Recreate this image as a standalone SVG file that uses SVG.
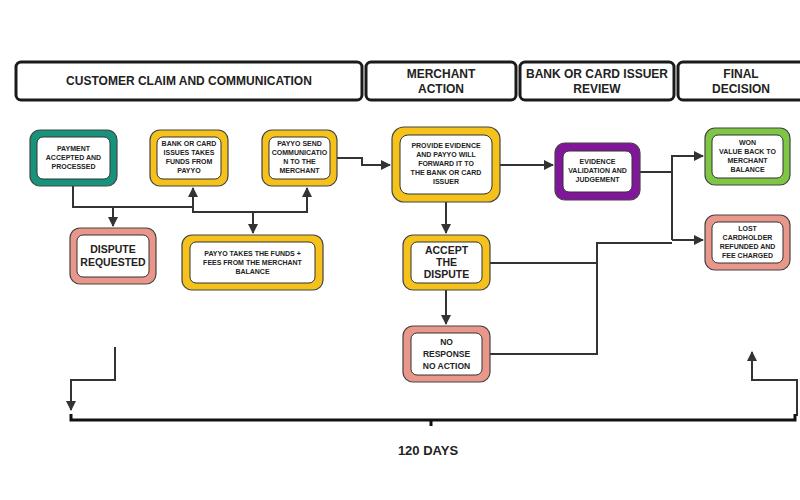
<svg xmlns="http://www.w3.org/2000/svg" width="800" height="500" viewBox="0 0 800 500">
<defs>
<style>
.hdr{fill:#fff;stroke:#1a1a1a;stroke-width:3}
.ht{font-family:"Liberation Sans",Arial,sans-serif;font-weight:bold;font-size:12px;fill:#222;text-anchor:middle}
.o{stroke:#444;stroke-width:1.2}
.in{fill:#fff;stroke:#333;stroke-width:1}
.t{font-family:"Liberation Sans",Arial,sans-serif;font-weight:bold;font-size:7px;fill:#222;text-anchor:middle}
.tb{font-family:"Liberation Sans",Arial,sans-serif;font-weight:bold;font-size:10.5px;fill:#222;text-anchor:middle}
.c{fill:none;stroke:#333;stroke-width:2}
.y{fill:#f4c21b}.g{fill:#16937a}.p{fill:#e8978a}.v{fill:#82169a}.gr{fill:#7ec644}
</style>
<marker id="a" viewBox="0 0 10 10" refX="9" refY="5" markerWidth="5" markerHeight="5" orient="auto"><path d="M0,0 L10,5 L0,10 z" fill="#333"/></marker>
</defs>
<rect width="800" height="500" fill="#fff"/>
<g id="headers">
<rect class="hdr" x="16" y="62" width="346" height="38" rx="5"/>
<text class="ht" x="189" y="85">CUSTOMER CLAIM AND COMMUNICATION</text>
<rect class="hdr" x="366" y="62" width="150" height="38" rx="5"/>
<text class="ht" x="441" y="78">MERCHANT</text><text class="ht" x="441" y="93">ACTION</text>
<rect class="hdr" x="520" y="62" width="154" height="38" rx="5"/>
<text class="ht" x="597" y="78">BANK OR CARD ISSUER</text><text class="ht" x="597" y="93">REVIEW</text>
<rect class="hdr" x="678" y="62" width="130" height="38" rx="5"/>
<text class="ht" x="741" y="78">FINAL</text><text class="ht" x="741" y="93">DECISION</text>
</g>
<g id="connectors">
<path class="c" d="M73,186 V207 H193"/>
<path class="c" d="M113,207 V226" marker-end="url(#a)"/>
<path class="c" d="M193,207 V188" marker-end="url(#a)"/>
<path class="c" d="M193,207 V212 H307 V188" marker-end="url(#a)"/>
<path class="c" d="M253,212 V233" marker-end="url(#a)"/>
<path class="c" d="M337,158 H362 V165 H390" marker-end="url(#a)"/>
<path class="c" d="M500,165 H553" marker-end="url(#a)"/>
<path class="c" d="M446,202 V233" marker-end="url(#a)"/>
<path class="c" d="M446,290 V324" marker-end="url(#a)"/>
<path class="c" d="M640,172 H672"/>
<path class="c" d="M672,240 V156 H703" marker-end="url(#a)"/>
<path class="c" d="M672,240 H703" marker-end="url(#a)"/>
<path class="c" d="M490,263 H597 V243"/>
<path class="c" d="M490,354 H597 V243 H672"/>
<path class="c" d="M115,347 V380 H71 V410" marker-end="url(#a)"/>
<path class="c" d="M797,416 V380 H752 V352" marker-end="url(#a)"/>
<path d="M71,414 V420 H795 V414 M431,420 V426" fill="none" stroke="#111" stroke-width="3"/>
</g>
<g id="n-payment"><rect class="o g" x="30" y="130" width="87" height="56" rx="10"/><rect class="in" x="37" y="137" width="73" height="42" rx="6"/>
<text class="t" x="73.5" y="151">PAYMENT</text><text class="t" x="73.5" y="160">ACCEPTED AND</text><text class="t" x="73.5" y="169">PROCESSED</text></g>
<g id="n-bank"><rect class="o y" x="150" y="130" width="78" height="56" rx="10"/><rect class="in" x="157" y="137" width="64" height="42" rx="6"/>
<text class="t" x="189" y="146">BANK OR CARD</text><text class="t" x="189" y="155">ISSUES TAKES</text><text class="t" x="189" y="164">FUNDS FROM</text><text class="t" x="189" y="173">PAYYO</text></g>
<g id="n-send"><rect class="o y" x="262" y="130" width="75" height="56" rx="10"/><rect class="in" x="269" y="137" width="61" height="42" rx="6"/>
<text class="t" x="299.5" y="146">PAYYO SEND</text><text class="t" x="299.5" y="155">COMMUNICATIO</text><text class="t" x="299.5" y="164">N TO THE</text><text class="t" x="299.5" y="173">MERCHANT</text></g>
<g id="n-dispute"><rect class="o p" x="70" y="228" width="86" height="56" rx="10"/><rect class="in" x="77" y="235" width="72" height="42" rx="6"/>
<text class="tb" x="113" y="253">DISPUTE</text><text class="tb" x="113" y="266">REQUESTED</text></g>
<g id="n-takes"><rect class="o y" x="182" y="235" width="141" height="55" rx="10"/><rect class="in" x="190" y="242" width="125" height="41" rx="6"/>
<text class="t" x="252.5" y="256">PAYYO TAKES THE FUNDS +</text><text class="t" x="252.5" y="265">FEES FROM THE MERCHANT</text><text class="t" x="252.5" y="274">BALANCE</text></g>
<g id="n-evidence"><rect class="o y" x="392" y="127" width="108" height="75" rx="12"/><rect class="in" x="400" y="135" width="92" height="59" rx="8"/>
<text class="t" x="446" y="148">PROVIDE EVIDENCE</text><text class="t" x="446" y="157">AND PAYYO WILL</text><text class="t" x="446" y="166">FORWARD  IT TO</text><text class="t" x="446" y="175">THE BANK OR CARD</text><text class="t" x="446" y="184">ISSUER</text></g>
<g id="n-validation"><rect class="o v" x="555" y="143" width="85" height="57" rx="10"/><rect class="in" x="563" y="151" width="69" height="41" rx="6"/>
<text class="t" x="597.5" y="164">EVIDENCE</text><text class="t" x="597.5" y="173">VALIDATION AND</text><text class="t" x="597.5" y="182">JUDGEMENT</text></g>
<g id="n-won"><rect class="o gr" x="705" y="128" width="85" height="57" rx="10"/><rect class="in" x="712" y="135" width="71" height="43" rx="6"/>
<text class="t" x="747.5" y="145">WON</text><text class="t" x="747.5" y="154">VALUE BACK TO</text><text class="t" x="747.5" y="163">MERCHANT</text><text class="t" x="747.5" y="172">BALANCE</text></g>
<g id="n-lost"><rect class="o p" x="705" y="215" width="85" height="55" rx="10"/><rect class="in" x="712" y="222" width="71" height="41" rx="6"/>
<text class="t" x="747.5" y="231">LOST</text><text class="t" x="747.5" y="240">CARDHOLDER</text><text class="t" x="747.5" y="249">REFUNDED AND</text><text class="t" x="747.5" y="258">FEE CHARGED</text></g>
<g id="n-accept"><rect class="o y" x="403" y="235" width="87" height="55" rx="10"/><rect class="in" x="411" y="242" width="71" height="41" rx="6"/>
<text class="tb" x="446.5" y="254">ACCEPT</text><text class="tb" x="446.5" y="266">THE</text><text class="tb" x="446.5" y="278">DISPUTE</text></g>
<g id="n-noresp"><rect class="o p" x="403" y="326" width="87" height="56" rx="10"/><rect class="in" x="411" y="333" width="71" height="42" rx="6"/>
<text class="t" style="font-size:8.5px" x="446.5" y="345">NO</text><text class="t" style="font-size:8.5px" x="446.5" y="357">RESPONSE</text><text class="t" style="font-size:8.5px" x="446.5" y="369">NO ACTION</text></g>
<text x="428" y="455" font-family="'Liberation Sans',Arial,sans-serif" font-weight="bold" font-size="13" fill="#222" text-anchor="middle">120 DAYS</text>
</svg>
